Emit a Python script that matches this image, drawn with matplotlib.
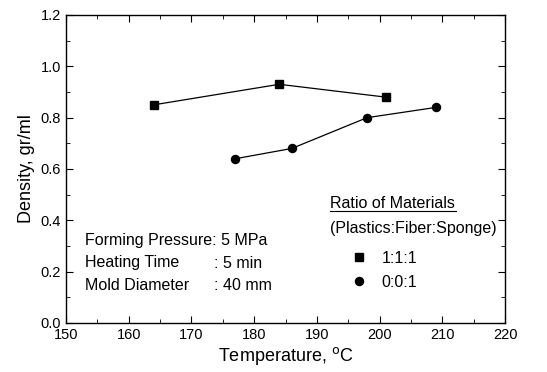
import matplotlib
matplotlib.use("Agg")
import matplotlib.pyplot as plt
from matplotlib.ticker import MultipleLocator, FormatStrFormatter
from matplotlib.lines import Line2D

plt.rcParams['font.family'] = ['Liberation Sans', 'DejaVu Sans']

# data
temp_111 = [164, 184, 201]
dens_111 = [0.85, 0.93, 0.88]
temp_001 = [177, 186, 198, 209]
dens_001 = [0.64, 0.68, 0.80, 0.84]
labels = ["1:1:1", "0:0:1"]

fig = plt.figure(figsize=(5.47, 3.72), dpi=100)
ax = fig.add_axes([66/547, 1 - 323/372, (505-66)/547, (323-15)/372])

l1, = ax.plot(temp_111, dens_111, color='black', lw=0.9, marker='s', ms=5.5)
l2, = ax.plot(temp_001, dens_001, color='black', lw=0.9, marker='o', ms=5.8)

ax.set_xlim(150, 220)
ax.set_ylim(0.0, 1.2)
ax.xaxis.set_major_locator(MultipleLocator(10))
ax.xaxis.set_minor_locator(MultipleLocator(5))
ax.yaxis.set_major_locator(MultipleLocator(0.2))
ax.yaxis.set_minor_locator(MultipleLocator(0.1))
ax.yaxis.set_major_formatter(FormatStrFormatter('%.1f'))
ax.tick_params(which='both', direction='in', top=True, right=True, labelsize=10.5)
ax.tick_params(which='major', length=5)
ax.tick_params(which='minor', length=3)
for s in ax.spines.values():
    s.set_linewidth(1.0)

ax.set_xlabel("Temperature, $^{\\rm o}$C", fontsize=13, labelpad=2)
ax.set_ylabel("Density, gr/ml", fontsize=13, labelpad=4)

tr = ax.transAxes
def px(x, y):
    # pixel position in the picture -> axes fraction
    return ((x - 66) / (505 - 66), (323 - y) / (323 - 15))

# condition notes
fs = 11.5
ax.text(*px(85, 240), "Forming Pressure: 5 MPa", transform=tr, fontsize=fs, va='center')
ax.text(*px(85, 263), "Heating Time", transform=tr, fontsize=fs, va='center')
ax.text(*px(214, 263), ": 5 min", transform=tr, fontsize=fs, va='center')
ax.text(*px(85, 286), "Mold Diameter", transform=tr, fontsize=fs, va='center')
ax.text(*px(214, 286), ": 40 mm", transform=tr, fontsize=fs, va='center')

# legend block
ax.text(*px(330, 204), "Ratio of Materials", transform=tr, fontsize=fs, va='center')
x0, y0 = px(330, 211)
x1, _ = px(456, 211)
ax.add_line(Line2D([x0, x1], [y0, y0], transform=tr, color='black', lw=0.8))
ax.text(*px(330, 228), "(Plastics:Fiber:Sponge)", transform=tr, fontsize=fs, va='center')
leg = ax.legend([l1, l2], labels, loc='upper left', bbox_to_anchor=px(341, 243),
                frameon=False, fontsize=fs, handlelength=1.2, handletextpad=0.85,
                labelspacing=0.55, borderpad=0)
for h in leg.legend_handles:
    h.set_linestyle('None')

fig.savefig("out.png", dpi=100)
